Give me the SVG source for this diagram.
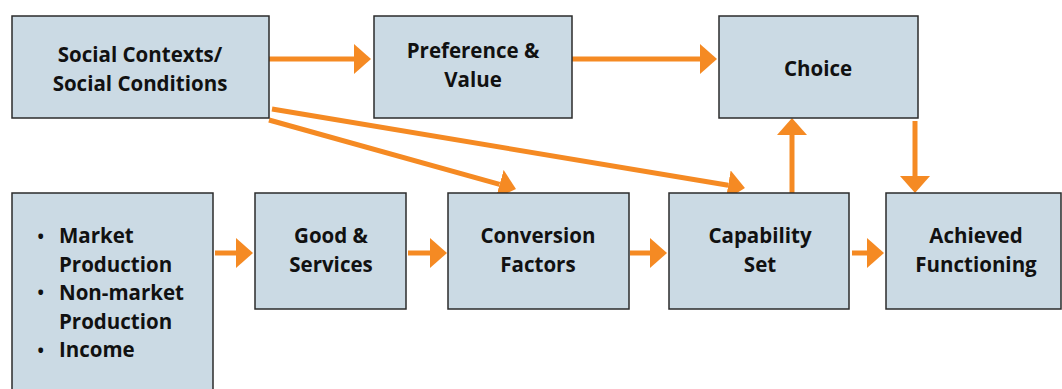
<svg xmlns="http://www.w3.org/2000/svg" width="1062" height="389" viewBox="0 0 1062 389">
  <style>
    .box { fill: #cbdae4; stroke: #2b2b2b; stroke-width: 1.5; }
    .lbl { font-family: "Open Sans", "Liberation Sans", sans-serif; font-weight: 700; font-size: 20.5px; fill: #111; text-anchor: middle; }
    .lst { font-family: "Open Sans", "Liberation Sans", sans-serif; font-weight: 700; font-size: 20.5px; fill: #111; }
    .dot { font-family: "Open Sans", "Liberation Sans", sans-serif; font-weight: 700; font-size: 17px; fill: #111; }
    .con { stroke: #f58a23; stroke-width: 5; fill: none; marker-end: url(#head); }
  </style>
  <defs>
    <marker id="head" viewBox="0 0 17 30" refX="0" refY="15" markerWidth="17" markerHeight="30" markerUnits="userSpaceOnUse" orient="auto">
      <polygon points="0,0 17,15 0,30" fill="#f58a23"/>
    </marker>
  </defs>
  <rect width="1062" height="389" fill="#ffffff"/>

  <g id="connectors">
    <line class="con" x1="269" y1="59" x2="354" y2="59"/>
    <line class="con" x1="572" y1="59" x2="700" y2="59"/>
    <line class="con" x1="269" y1="120" x2="499.6" y2="184.4"/>
    <line class="con" x1="272" y1="109" x2="728.2" y2="185.2"/>
    <line class="con" x1="792" y1="193" x2="792" y2="135"/>
    <line class="con" x1="915" y1="121" x2="915" y2="176"/>
    <line class="con" x1="215" y1="253" x2="236" y2="253"/>
    <line class="con" x1="408" y1="253" x2="430" y2="253"/>
    <line class="con" x1="630" y1="253" x2="650" y2="253"/>
    <line class="con" x1="852" y1="253" x2="867" y2="253"/>
  </g>

  <g id="social">
    <rect class="box" x="12" y="16" width="257" height="102"/>
    <text class="lbl" x="140" y="62">Social Contexts/</text>
    <text class="lbl" x="140" y="91">Social Conditions</text>
  </g>
  <g id="preference">
    <rect class="box" x="374" y="16" width="198" height="102"/>
    <text class="lbl" x="473" y="58">Preference &amp;</text>
    <text class="lbl" x="473" y="87">Value</text>
  </g>
  <g id="choice">
    <rect class="box" x="719" y="16" width="199" height="102"/>
    <text class="lbl" x="818" y="76">Choice</text>
  </g>
  <g id="resources">
    <rect class="box" x="12" y="193" width="201" height="210"/>
    <text class="dot" x="37.5" y="242.5">•</text>
    <text class="lst" x="59" y="243">Market</text>
    <text class="lst" x="59" y="272">Production</text>
    <text class="dot" x="37.5" y="299">•</text>
    <text class="lst" x="59" y="300">Non-market</text>
    <text class="lst" x="59" y="329">Production</text>
    <text class="dot" x="37.5" y="356.5">•</text>
    <text class="lst" x="59" y="357">Income</text>
  </g>
  <g id="goods">
    <rect class="box" x="255" y="193" width="151" height="116"/>
    <text class="lbl" x="331" y="243">Good &amp;</text>
    <text class="lbl" x="331" y="272">Services</text>
  </g>
  <g id="conversion">
    <rect class="box" x="448" y="193" width="181" height="116"/>
    <text class="lbl" x="538" y="243">Conversion</text>
    <text class="lbl" x="538" y="272">Factors</text>
  </g>
  <g id="capability">
    <rect class="box" x="669" y="193" width="180" height="116"/>
    <text class="lbl" x="760" y="243">Capability</text>
    <text class="lbl" x="760" y="272">Set</text>
  </g>
  <g id="achieved">
    <rect class="box" x="886" y="193" width="175" height="116"/>
    <text class="lbl" x="976" y="243">Achieved</text>
    <text class="lbl" x="976" y="272">Functioning</text>
  </g>
</svg>
